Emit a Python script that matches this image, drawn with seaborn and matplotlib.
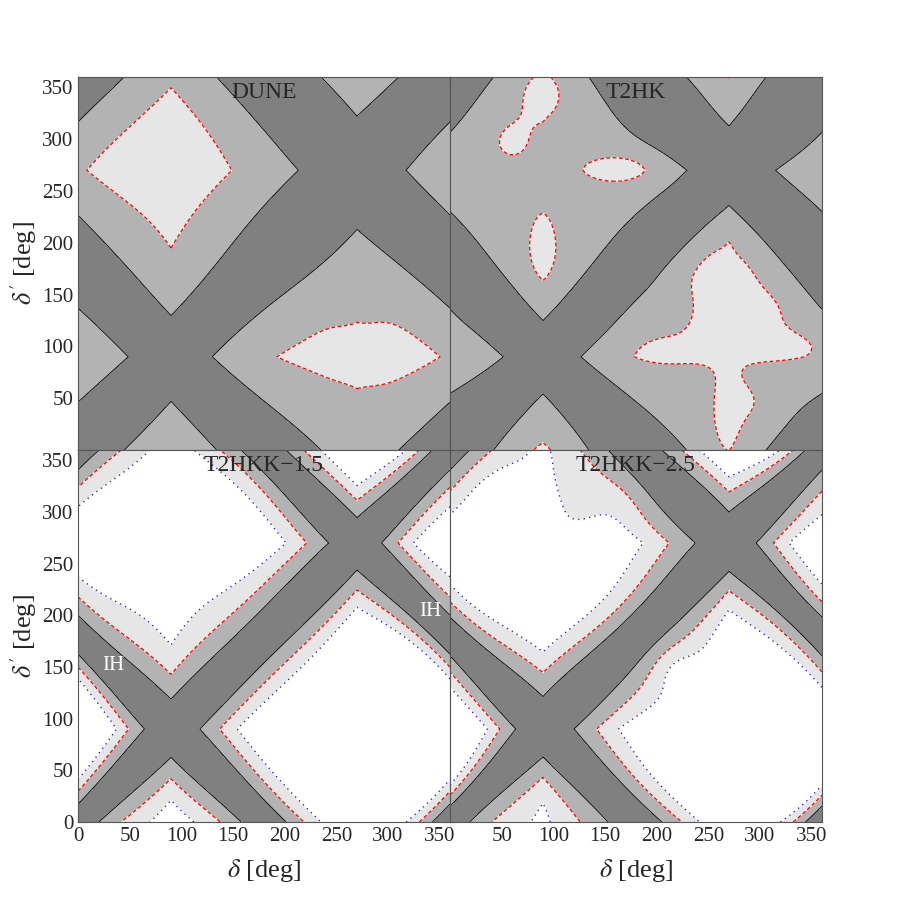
import numpy as np
import matplotlib
matplotlib.use("Agg")
import matplotlib.pyplot as plt
import seaborn as sns
from matplotlib.ticker import MultipleLocator

# ----------------------------------------------------------
# data: points on the drawn contours
# (delta, delta') in degrees, one list per chi^2 level
# ----------------------------------------------------------
levels = [1, 4, 9]

dune_l1 = [(0, 319), (48, 358), (0, 223), (53, 172), (90, 131), (134, 185), (183, 239),
           (213, 271), (176, 313), (134, 360), (133, 91), (202, 153), (270, 215), (312, 178),
           (360, 143), (181, 44), (235, 2), (48, 2), (90, 49), (132, 2), (0, 50), (52, 90),
           (0, 134), (360, 47), (320, 2), (318, 271), (360, 318), (360, 240), (270, 326),
           (239, 360), (312, 360)]
dune_l4 = [(89, 356), (4, 271), (153, 269), (89, 186), (60, 319), (47, 233), (125, 239),
           (131, 293), (198, 91), (225, 110), (257, 124), (300, 112), (347, 91), (300, 72),
           (257, 58), (225, 70)]
dune_inner = [(90, 270, 6), (270, 90, 5), (270, 140, 3), (270, 40, 3)]
dune_bumps = [(270, 140, 10, 10, 0), (270, 40, 10, 10, 0)]

t2hk_l1 = [(0, 303), (44, 360), (126, 360), (126, 326), (152, 326), (231, 271), (184, 242),
           (129, 213), (61, 169), (90, 130), (0, 239), (128, 93), (184, 156), (223, 197),
           (269, 230), (312, 197), (358, 153), (129, 88), (206, 38), (226, 2), (360, 66),
           (303, 2), (60, 14), (90, 52), (129, 5), (0, 66), (53, 92), (0, 124), (269, 314),
           (314, 271), (229, 360), (300, 360), (360, 302), (360, 239)]
t2hk_l4 = [(269, 202), (252, 178), (253, 114), (216, 101), (168, 93), (174, 85), (242, 82),
           (255, 57), (261, 2), (276, 2), (310, 72), (342, 88), (350, 103), (323, 127),
           (290, 169), (255, 190), (282, 185), (190, 99), (190, 88), (258, 30), (290, 40),
           (252, 145), (75, 2), (90, 23), (104, 2), (269, 355),
           (124, 271), (197, 271), (161, 284), (161, 258),
           (90, 238), (90, 164), (71, 201), (107, 201),
           (48, 287), (46, 304), (71, 319), (76, 355), (107, 358), (97, 325), (65, 294)]
t2hk_inner = [(90, 270, 2.5), (120, 235, 2.5), (125, 305, 2.5), (40, 255, 2.5), (60, 240, 2.5),
              (95, 290, 3), (100, 278, 3), (50, 332, 3), (58, 350, 3), (120, 345, 3),
              (30, 290, 3), (215, 150, 2.5), (235, 150, 3), (225, 135, 2.8), (220, 40, 2.5),
              (320, 40, 2.5), (320, 160, 2.5), (160, 271, 5.5), (90, 200, 5.5), (57, 298, 5),
              (68, 312, 4.8), (80, 328, 5), (75, 320, 4.8), (92, 345, 5.5), (270, 95, 8),
              (270, 150, 6), (220, 95, 6), (270, 40, 6), (310, 95, 6), (310, 130, 5),
              (290, 45, 5)]
t2hk_bumps = [(160, 271, 6, 30, 0), (90, 200, 30, 6, 0), (57, 298, 20, 20, 0),
              (72, 318, 20, 20, 0), (90, 342, 20, 20, 0),
              (270, 95, 6, 6, 0), (270, 160, 30, 4, 0), (268, 30, 30, 4, 0), (205, 95, 4, 30, 0),
              (320, 100, 4, 25, 0), (90, 270, 4, 4, 0), (215, 140, 12, 12, 0),
              (310, 130, 10, 10, 0), (290, 45, 10, 10, 0)]

k15_l1 = [(89, 122), (89, 60), (68, 89), (118, 89), (270, 293), (270, 249), (242, 271),
          (292, 271), (0, 342), (0, 199), (0, 164), (0, 15), (19, 0), (165, 0), (198, 0),
          (342, 0), (200, 360), (180, 210), (180, 154)]
k15_l4 = [(89, 148), (89, 33), (52, 89), (137, 89), (270, 312), (270, 230), (218, 271),
          (317, 271), (0, 321), (0, 224), (0, 144), (0, 28), (48, 0), (142, 0), (223, 0),
          (336, 0), (180, 234), (180, 135)]
k15_l9 = [(89, 175), (89, 5), (36, 89), (154, 89), (270, 335), (270, 208), (194, 271),
          (341, 271), (0, 302), (0, 242), (0, 131), (0, 44), (81, 0), (97, 0), (245, 0),
          (323, 0), (180, 258), (180, 116), (40, 335), (77, 360), (109, 360), (150, 322),
          (175, 295), (47, 203), (144, 225), (212, 148), (360, 145), (195, 50)]
k15_inner = [(90, 270, 60), (270, 90, 60), (60, 300, 40), (300, 60, 40)]

k25_l1 = [(90, 122), (90, 59), (68, 89), (119, 89), (269, 297), (269, 246), (242, 271),
          (298, 271), (0, 339), (0, 190), (0, 161), (0, 15), (27, 0), (156, 0), (202, 0),
          (348, 0), (180, 210), (180, 153)]
k25_l4 = [(90, 148), (90, 32), (52, 89), (142, 89), (269, 319), (269, 224), (213, 271),
          (327, 271), (0, 315), (0, 216), (0, 138), (60, 0), (131, 0), (229, 0), (339, 0),
          (180, 237), (180, 129)]
k25_l9 = [(90, 177), (90, 3), (34, 89), (165, 89), (269, 345), (269, 198), (176, 271),
          (347, 271), (0, 302), (0, 235), (0, 116), (0, 28), (87, 0), (97, 0), (255, 0),
          (323, 0), (130, 282), (158, 276), (125, 320), (110, 345), (30, 330), (60, 352),
          (216, 143), (240, 170), (190, 115), (315, 157), (210, 45)]
k25_inner = [(60, 270, 50), (60, 320, 30), (90, 250, 40), (140, 240, 20), (270, 90, 60),
             (300, 60, 40), (235, 140, 20), (215, 115, 15), (170, 300, 6), (155, 335, 6)]
k25_bumps = [(60, 300, 8, 8, 0), (215, 150, 10, 10, 0), (165, 310, 8, 8, 0)]


def band(x, y):
    xr, yr = np.radians(x), np.radians(y)
    return np.minimum(np.sin((xr - yr) / 2) ** 2, np.cos((xr + yr) / 2) ** 2)


def features(x, y, bumps):
    xr, yr = np.radians(x), np.radians(y)
    cols = [np.ones_like(xr), np.cos(xr), np.sin(xr), np.cos(yr), np.sin(yr),
            np.cos(2 * xr), np.sin(2 * xr), np.cos(2 * yr), np.sin(2 * yr),
            np.cos(xr + yr), np.sin(xr + yr), np.cos(xr - yr), np.sin(xr - yr)]
    for cx, cy, ka, kb, tilted in bumps:
        dx, dy = xr - np.radians(cx), yr - np.radians(cy)
        if tilted:
            # stretched along the diagonal
            cols.append(np.exp(ka * (np.cos(dx + dy) - 1) + kb * (np.cos(dx - dy) - 1)))
        else:
            cols.append(np.exp(ka * (np.cos(dx) - 1) + kb * (np.cos(dy) - 1)))
    return np.stack(cols, axis=-1)


def chi2_field(contours, inner, p, bumps, X, Y, ridge=0.2):
    # chi^2 = M(x,y) * band^p, log M fitted to the read-off contour points
    xs, ys, vs, ws = [], [], [], []
    for lvl, pts in contours:
        for a, b in pts:
            xs.append(a); ys.append(b); vs.append(lvl); ws.append(1.0)
    for a, b, v in inner:
        xs.append(a); ys.append(b); vs.append(v); ws.append(0.7)
    xs, ys, vs, ws = map(np.array, (xs, ys, vs, ws))
    A = features(xs, ys, bumps)
    rhs = np.log(vs) - p * np.log(band(xs, ys) + 1e-9)
    A = A * ws[:, None]
    rhs = rhs * ws
    reg = ridge * np.eye(A.shape[1])
    reg[0, 0] = 0
    reg[13:, 13:] *= 0.2
    coef = np.linalg.solve(A.T @ A + reg, A.T @ rhs)
    logM = features(X, Y, bumps) @ coef
    return np.exp(logM) * band(X, Y) ** p


g = np.linspace(0, 360, 481)
X, Y = np.meshgrid(g, g)

panels = [
    ("DUNE", [(1, dune_l1), (4, dune_l4)], dune_inner, 1.0, dune_bumps,
     [0.0867, 0.5, 0.4133, 0.4144]),
    ("T2HK", [(1, t2hk_l1), (4, t2hk_l4)], t2hk_inner, 1.0, t2hk_bumps,
     [0.5, 0.5, 0.4133, 0.4144]),
    ("T2HKK\u22121.5", [(1, k15_l1), (4, k15_l4), (9, k15_l9)], k15_inner, 1.25, [],
     [0.0867, 0.0867, 0.4133, 0.4133]),
    ("T2HKK\u22122.5", [(1, k25_l1), (4, k25_l4), (9, k25_l9)], k25_inner, 1.25, k25_bumps,
     [0.5, 0.0867, 0.4133, 0.4133]),
]

sns.set_style("ticks")
plt.rcParams["font.family"] = ["Liberation Serif", "DejaVu Serif"]
plt.rcParams["mathtext.fontset"] = "stix"

fig = plt.figure(figsize=(9, 9), dpi=100)

for i, (name, cont, inner, p, bumps, rect) in enumerate(panels):
    ax = fig.add_axes(rect)
    Z = chi2_field(cont, inner, p, bumps, X, Y)
    if i < 2:
        fl = [0, 1, 4, 1e9]
        cols = ["#808080", "#b3b3b3", "#e6e6e6"]
    else:
        fl = [0, 1, 4, 9, 1e9]
        cols = ["#808080", "#b3b3b3", "#e6e6e6", "#ffffff"]
    ax.contourf(X, Y, Z, levels=fl, colors=cols)
    ax.contour(X, Y, Z, levels=[1], colors="black", linewidths=0.6)
    ax.contour(X, Y, Z, levels=[4], colors="red", linewidths=0.9, linestyles=[(0, (3, 2))])
    if i >= 2:
        ax.contour(X, Y, Z, levels=[9], colors="#2a2acc", linewidths=1.0,
                   linestyles=[(0, (1, 3))])
    ax.set_xlim(0, 360)
    ax.set_ylim(0, 360)
    ax.xaxis.set_major_locator(MultipleLocator(50))
    ax.yaxis.set_major_locator(MultipleLocator(50))
    ax.xaxis.set_minor_locator(MultipleLocator(10))
    ax.yaxis.set_minor_locator(MultipleLocator(10))
    ax.tick_params(which="both", direction="in", top=True, right=True, labelsize=15,
                   color="#444444")
    ax.tick_params(which="major", length=6)
    ax.tick_params(which="minor", length=3)
    for s in ax.spines.values():
        s.set_color("#555555")
        s.set_linewidth(0.8)
    ax.text(180, 345, name, ha="center", va="center", fontsize=17)
    if i < 2:
        ax.set_xticklabels([])
        ax.set_yticks([50, 100, 150, 200, 250, 300, 350])
    else:
        if i == 3:
            ax.set_xticks([50, 100, 150, 200, 250, 300, 350])
        ax.set_xlabel(r"$\delta$ [deg]", fontsize=19, labelpad=8)
    if i % 2 == 1:
        ax.set_yticklabels([])
    else:
        ax.set_ylabel(r"$\delta'$ [deg]", fontsize=19, labelpad=2)
    if i == 2:
        ax.text(34, 151, "IH", color="white", fontsize=15, ha="center", va="center")
        ax.text(341, 204, "IH", color="white", fontsize=15, ha="center", va="center")

fig.savefig("out.png", dpi=100)
